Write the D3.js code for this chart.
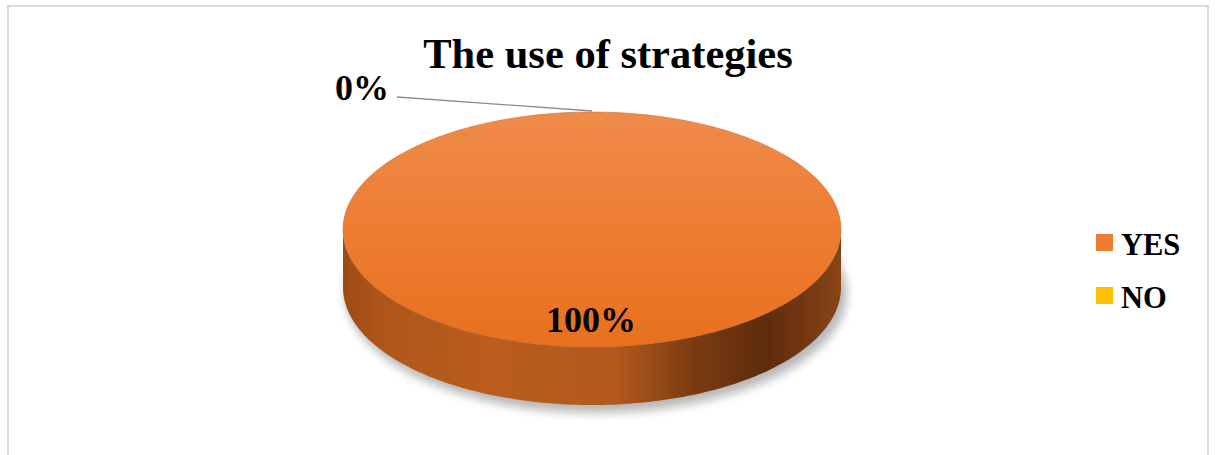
<!DOCTYPE html>
<html><head><meta charset="utf-8">
<script src="https://cdn.jsdelivr.net/npm/d3@7"></script>
<style>html,body{margin:0;padding:0;background:#fff;}svg{display:block;}</style>
</head><body>
<svg id="c" width="1215" height="455"></svg>
<script>
const title = "The use of strategies";
const categories = ["YES", "NO"];
const values = [100, 0];
const labels = ["100%", "0%"];
const colors = ["#ED7D31", "#FFC000"];

const svg = d3.select("#c");
const serif = "'Liberation Serif','Times New Roman',serif";

// frame
svg.append("rect").attr("x", 8).attr("y", 6).attr("width", 1200).attr("height", 470)
  .attr("fill", "#fff").attr("stroke", "#d9d9d9").attr("stroke-width", 2);

const defs = svg.append("defs");
const topG = defs.append("linearGradient").attr("id", "topG").attr("x1", 0).attr("y1", 0).attr("x2", 0).attr("y2", 1);
[["0", "#EF8B4B"], ["0.45", "#EE7E34"], ["1", "#E8701E"]].forEach(s => topG.append("stop").attr("offset", s[0]).attr("stop-color", s[1]));

const cx = 592, cy = 229.5, rx = 249, ry = 117.5, depth = 58;

const sideG = defs.append("linearGradient").attr("id", "sideG").attr("gradientUnits", "userSpaceOnUse")
  .attr("x1", cx - rx).attr("x2", cx + rx).attr("y1", 0).attr("y2", 0);
[["0", "#9C4B16"], ["0.08", "#B0561A"], ["0.3", "#BA5D1D"], ["0.55", "#B2591C"], ["0.7", "#7C3C12"], ["0.85", "#5E2C0C"], ["1", "#8A4416"]]
  .forEach(s => sideG.append("stop").attr("offset", s[0]).attr("stop-color", s[1]));

const blur = defs.append("filter").attr("id", "blur").attr("x", "-20%").attr("y", "-20%").attr("width", "140%").attr("height", "140%");
blur.append("feGaussianBlur").attr("stdDeviation", 5);

const color = d3.scaleOrdinal().domain(categories).range(colors);
const pie = d3.pie().sort(null).value(d => d.v);
const data = pie(categories.map((c, i) => ({ c, v: values[i], l: labels[i] })));

const px = a => cx + rx * Math.sin(a);
const py = (a, dy = 0) => cy - ry * Math.cos(a) + dy;

function arcPts(a0, a1, dy) {
  const n = Math.max(2, Math.ceil((a1 - a0) / 0.02));
  return d3.range(n + 1).map(i => { const a = a0 + (a1 - a0) * i / n; return [px(a), py(a, dy)]; });
}

// shadow
svg.append("ellipse").attr("cx", cx + 4).attr("cy", cy + depth + 6).attr("rx", rx + 2).attr("ry", ry + 2)
  .attr("fill", "#000").attr("opacity", 0.28).attr("filter", "url(#blur)");

const line = d3.line();
// side walls
data.forEach(d => {
  if (d.endAngle - d.startAngle <= 0) return;
  const a0 = Math.max(d.startAngle, Math.PI / 2), a1 = Math.min(d.endAngle, 3 * Math.PI / 2);
  if (a1 <= a0) return;
  const top = arcPts(a0, a1, 0), bot = arcPts(a0, a1, depth).reverse();
  svg.append("path").attr("d", line(top.concat(bot)) + "Z")
    .attr("fill", d.data.c === "YES" ? "url(#sideG)" : d3.color(color(d.data.c)).darker(1));
});
// top faces
data.forEach(d => {
  if (d.endAngle - d.startAngle <= 0) return;
  const pts = arcPts(d.startAngle, d.endAngle, 0);
  const full = d.endAngle - d.startAngle >= 2 * Math.PI - 1e-6;
  const path = full ? line(pts) + "Z" : line([[cx, cy]].concat(pts)) + "Z";
  svg.append("path").attr("d", path)
    .attr("fill", d.data.c === "YES" ? "url(#topG)" : color(d.data.c))
    .attr("stroke", "#B86A3A").attr("stroke-width", 0.8).attr("stroke-opacity", 0.6);
});

// title
svg.append("text").attr("x", 608).attr("y", 68).attr("text-anchor", "middle")
  .attr("font-family", serif).attr("font-weight", "bold").attr("font-size", 42.5).attr("fill", "#000").text(title);

// data labels
data.forEach(d => {
  if (d.data.v === 0) {
    const a = d.startAngle;
    const ex = px(a), ey = py(a, 0) - 1;
    svg.append("path").attr("d", line([[397, 97], [ex, ey]]))
      .attr("fill", "none").attr("stroke", "#8c8c8c").attr("stroke-width", 1.3);
    svg.append("text").attr("x", 389).attr("y", 100).attr("text-anchor", "end")
      .attr("font-family", serif).attr("font-weight", "bold").attr("font-size", 36).attr("fill", "#000").text(d.data.l);
  } else {
    svg.append("text").attr("x", 591).attr("y", 332).attr("text-anchor", "middle")
      .attr("font-family", serif).attr("font-weight", "bold").attr("font-size", 36).attr("fill", "#000").text(d.data.l);
  }
});

// legend
const leg = svg.append("g");
categories.forEach((c, i) => {
  const y = 234 + i * 53;
  leg.append("rect").attr("x", 1096).attr("y", y).attr("width", 17).attr("height", 17).attr("fill", color(c));
  leg.append("text").attr("x", 1121).attr("y", y + 21).attr("font-family", serif).attr("font-weight", "bold")
    .attr("font-size", 30.5).attr("fill", "#000").text(c);
});
</script>
</body></html>
